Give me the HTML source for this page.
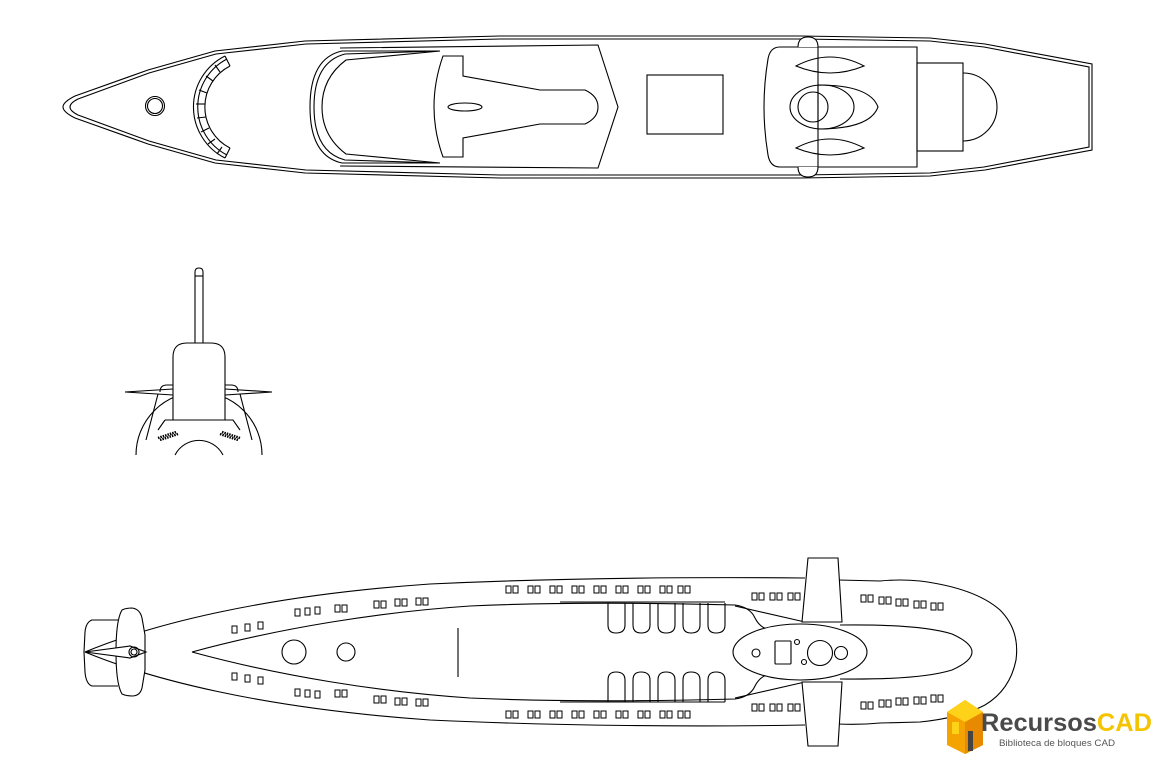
<!DOCTYPE html>
<html><head><meta charset="utf-8"><style>
html,body{margin:0;padding:0;background:#fff;width:1154px;height:757px;overflow:hidden}
svg{display:block}
</style></head><body>
<svg width="1154" height="757" viewBox="0 0 1154 757" xmlns="http://www.w3.org/2000/svg">
<defs>
<g id="v"><rect x="0" y="0" width="5" height="7" fill="none" stroke="#000" stroke-width="1"/><rect x="7" y="0" width="5" height="7" fill="none" stroke="#000" stroke-width="1"/></g>
<g id="v1"><rect x="0" y="0" width="5" height="7" fill="none" stroke="#000" stroke-width="1"/></g>
</defs>
<g fill="none" stroke="#000" stroke-width="1.1">
<!-- TOP VIEW -->
<path d="M75,96 L148,70 L215,51 L305,41 L500,36 L800,36 L930,38 L985,44 L1092,64 L1092,150 L985,170 L930,176 L800,178 L500,178 L305,173 L215,163 L148,144 L75,118 Q63,112 63,107 Q63,102 75,96 Z"/>
<path d="M78,99 L149,73 L216,54 L306,44 L500,39 L800,39 L930,41 L984,47 L1089,67 L1089,147 L984,167 L930,173 L800,175 L500,175 L306,170 L216,160 L149,141 L78,115 Q70,111 70,107 Q70,103 78,99 Z"/>
<circle cx="155" cy="106" r="9.5"/><circle cx="155" cy="106" r="7.5"/>
<path d="M225,56 A57,57 0 0 0 225,158"/>
<path d="M227,59 A54,54 0 0 0 227,155"/>
<path d="M230,66 A46,46 0 0 0 230,148"/>
<line x1="225" y1="56" x2="230" y2="66"/><line x1="225" y1="158" x2="230" y2="148"/>
<line x1="215" y1="65" x2="220" y2="72"/><line x1="206" y1="76" x2="213" y2="81"/><line x1="199" y1="90" x2="207" y2="93"/><line x1="196" y1="104" x2="205" y2="104"/><line x1="197" y1="118" x2="206" y2="117"/><line x1="201" y1="132" x2="209" y2="128"/><line x1="208" y1="144" x2="215" y2="139"/><line x1="217" y1="154" x2="222" y2="147"/>
<path d="M340,48 L598,45 L618,107 L598,168 L340,166"/>
<path d="M440,51 L342,51 Q310,58 310,107 Q310,156 342,163 L440,163"/>
<path d="M440,51 L345,54 Q314,62 314,107 Q314,152 345,160 L440,163"/>
<path d="M440,51 L346,60 Q322,78 322,107 Q322,136 346,154 L440,163"/>
<path d="M443,56 L463,56 L463,76 L540,90 L585,90 Q598,96 598,107 Q598,118 585,124 L540,124 L463,138 L463,157 L443,157 Q425,107 443,56 Z"/>
<ellipse cx="465" cy="107" rx="17" ry="4"/>
<rect x="647" y="75" width="76" height="59"/>
<path d="M780,47 L917,47 L917,167 L780,167 Q770,167 768,155 Q760,107 768,59 Q770,47 780,47 Z" fill="#fff"/>
<path d="M798,47 Q798,37 808,37 Q818,37 818,47" fill="#fff"/><path d="M798,167 Q798,177 808,177 Q818,177 818,167" fill="#fff"/>
<line x1="818" y1="47" x2="818" y2="167"/>
<path d="M796,66 Q830,48 864,66 Q830,80 796,66 Z"/>
<path d="M796,148 Q830,130 864,148 Q830,162 796,148 Z"/>
<path d="M818,85 Q870,85 878,107 Q870,129 818,129 L818,85"/>
<ellipse cx="822" cy="107" rx="32" ry="22"/>
<circle cx="813" cy="107" r="15"/>
<rect x="917" y="63" width="46" height="88"/>
<path d="M963,73 A34,34 0 0 1 963,141"/>

<!-- FRONT VIEW -->
<path d="M195,343 L195,272 Q195,268 199,268 Q203,268 203,272 L203,343"/>
<line x1="195" y1="276" x2="203" y2="276"/>
<path d="M125,392 L173,389 M125,392 L173,395 M225,389 L272,392 L225,395"/>
<path d="M160,392 Q160,385 167,385 L173,385 M225,385 L231,385 Q238,385 238,392"/>
<path d="M158,394 L146,440 M240,394 L252,440"/>
<path d="M136,455 A63,63 0 0 1 262,455"/>
<path d="M175,455 A27,27 0 0 1 223,455"/>
<path d="M165,420 L233,420 L242,432 L156,432 Z" fill="#fff" stroke="none"/>
<path d="M173,420 L173,357 Q173,343 187,343 L211,343 Q225,343 225,357 L225,420" fill="#fff"/>
<path d="M165,420 L233,420 L240,430 M165,420 L158,430"/>
<path d="M158,438 L176,432 M160,440 L178,434" stroke-width="2.5" stroke-dasharray="1.5,1"/>
<path d="M222,432 L240,438 M220,434 L238,440" stroke-width="2.5" stroke-dasharray="1.5,1"/>

<!-- BOTTOM VIEW -->
<path d="M85,652 C150,625 260,596 430,584 C560,578 700,577 805,578 M838,580 L880,581 Q900,579 920,581 Q975,588 1000,610 Q1020,630 1016,660 Q1010,690 985,705 Q960,718 920,722 L880,723 Q860,725 838,724 M805,725 C700,727 560,726 430,720 C260,708 150,679 85,652"/>
<path d="M192,652 C280,628 380,612 470,606 C560,602 660,603 735,605 Q750,607 755,618 Q760,628 770,630"/>
<path d="M192,652 C280,676 380,692 470,698 C560,702 660,701 735,699 Q750,697 755,686 Q760,676 770,674"/>
<path d="M735,606 L805,622 M735,698 L805,682"/>
<path d="M840,625 Q920,624 952,634 Q972,643 972,652 Q972,661 952,670 Q920,680 840,679"/>
<path d="M808,558 L838,558 L842,622 L802,622 Z" fill="#fff"/>
<path d="M802,682 L842,682 L838,746 L808,746 Z" fill="#fff"/>
<ellipse cx="800" cy="652" rx="67" ry="28" fill="#fff"/>
<circle cx="756" cy="653" r="4"/><rect x="775" y="641" width="16" height="23" rx="1"/><circle cx="797" cy="642" r="2.5"/><circle cx="804" cy="662" r="2.5"/><circle cx="820" cy="653" r="12.5"/><circle cx="841" cy="653" r="6.5"/>
<line x1="560" y1="602" x2="725" y2="602"/><line x1="560" y1="702" x2="725" y2="702"/>
<path d="M608,603 L608,625 Q608,633 616,633 Q625,633 625,625 L625,603 M633,603 L633,625 Q633,633 641,633 Q650,633 650,625 L650,603 M658,603 L658,625 Q658,633 666,633 Q675,633 675,625 L675,603 M683,603 L683,625 Q683,633 691,633 Q700,633 700,625 L700,603 M708,603 L708,625 Q708,633 716,633 Q725,633 725,625 L725,603"/>
<path d="M608,702 L608,680 Q608,672 616,672 Q625,672 625,680 L625,702 M633,702 L633,680 Q633,672 641,672 Q650,672 650,680 L650,702 M658,702 L658,680 Q658,672 666,672 Q675,672 675,680 L675,702 M683,702 L683,680 Q683,672 691,672 Q700,672 700,680 L700,702 M708,702 L708,680 Q708,672 716,672 Q725,672 725,680 L725,702"/>
<line x1="458" y1="628" x2="458" y2="677"/>
<circle cx="294" cy="652" r="12"/><circle cx="346" cy="652" r="9"/>
<path d="M118,620 L92,620 Q86,622 85,632 L84,652 L85,672 Q86,684 92,686 L118,686"/>
<path d="M122,610 Q126,608 132,608 Q140,609 142,618 L145,635 L145,670 L142,688 Q140,696 132,696 Q126,696 122,694 Q116,684 116,652 Q116,620 122,610 Z" fill="#fff"/>
<path d="M85,652 L130,646 L146,652 L130,658 Z" fill="#fff"/>
<circle cx="134" cy="652" r="5"/><circle cx="134" cy="652" r="3"/>
</g>
<!-- vents -->
<g>
<use href="#v" x="506" y="586"/><use href="#v" x="528" y="586"/><use href="#v" x="550" y="586"/><use href="#v" x="572" y="586"/><use href="#v" x="594" y="586"/><use href="#v" x="616" y="586"/><use href="#v" x="638" y="586"/><use href="#v" x="660" y="586"/><use href="#v" x="678" y="586"/>
<use href="#v" x="506" y="711"/><use href="#v" x="528" y="711"/><use href="#v" x="550" y="711"/><use href="#v" x="572" y="711"/><use href="#v" x="594" y="711"/><use href="#v" x="616" y="711"/><use href="#v" x="638" y="711"/><use href="#v" x="660" y="711"/><use href="#v" x="678" y="711"/>
<use href="#v" x="752" y="593"/><use href="#v" x="770" y="593"/><use href="#v" x="788" y="593"/>
<use href="#v" x="752" y="704"/><use href="#v" x="770" y="704"/><use href="#v" x="788" y="704"/>
<use href="#v" x="861" y="595"/><use href="#v" x="879" y="597"/><use href="#v" x="896" y="599"/><use href="#v" x="914" y="601"/><use href="#v" x="931" y="603"/>
<use href="#v" x="861" y="702"/><use href="#v" x="879" y="700"/><use href="#v" x="896" y="698"/><use href="#v" x="914" y="697"/><use href="#v" x="931" y="695"/>
<use href="#v" x="374" y="601"/><use href="#v" x="395" y="599"/><use href="#v" x="416" y="598"/>
<use href="#v" x="374" y="696"/><use href="#v" x="395" y="698"/><use href="#v" x="416" y="699"/>
<use href="#v" x="335" y="605"/><use href="#v" x="335" y="690"/>
<use href="#v1" x="295" y="609"/><use href="#v1" x="305" y="608"/><use href="#v1" x="315" y="607"/>
<use href="#v1" x="295" y="689"/><use href="#v1" x="305" y="690"/><use href="#v1" x="315" y="691"/>
<use href="#v1" x="232" y="626"/><use href="#v1" x="245" y="624"/><use href="#v1" x="258" y="622"/>
<use href="#v1" x="232" y="673"/><use href="#v1" x="245" y="675"/><use href="#v1" x="258" y="677"/>
</g>
<!-- logo -->
<g>
<polygon points="947,712 965,700 983,712 983,745 965,754 947,745" fill="#f5a300"/>
<polygon points="947,712 965,700 983,712 965,722" fill="#ffd21a"/>
<polygon points="965,722 983,712 983,745 965,754" fill="#e88a00"/>
<rect x="952" y="722" width="7" height="12" fill="#ffd21a"/>
<rect x="968" y="731" width="5" height="20" fill="#444"/>
<text x="981" y="731" font-family="Liberation Sans, sans-serif" font-weight="bold" font-size="25" fill="#4a4a4a" textLength="171" lengthAdjust="spacingAndGlyphs">Recursos<tspan fill="#f5c400">CAD</tspan></text>
<text x="999" y="746" font-family="Liberation Sans, sans-serif" font-size="9" fill="#555" textLength="116" lengthAdjust="spacingAndGlyphs">Biblioteca de bloques CAD</text>
</g>
</svg>
</body></html>
